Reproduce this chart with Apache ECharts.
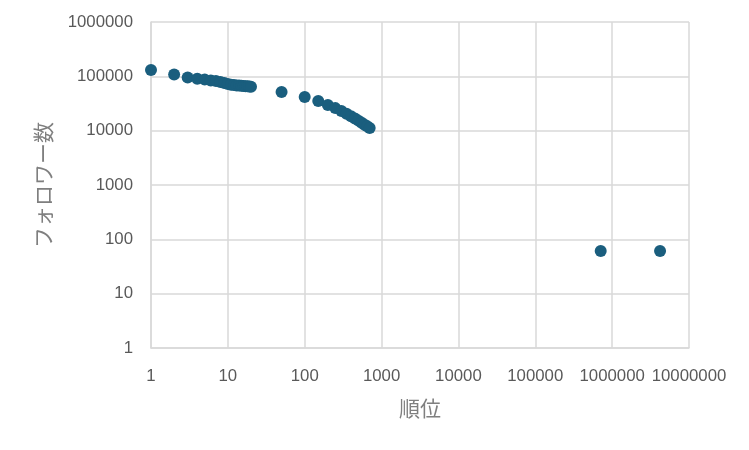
<!DOCTYPE html>
<html>
<head>
<meta charset="utf-8">
<script src="https://cdn.jsdelivr.net/npm/echarts@6/dist/echarts.min.js"></script>
<style>html,body{margin:0;padding:0;background:#fff;}#c{width:749px;height:450px;}</style>
</head>
<body>
<div id="c"></div>
<script>
const ranks = [1,2,3,4,5,6,7,8,9,10,11,12,13,14,15,16,17,18,19,20,
  50,100,150,200,250,300,350,400,450,500,550,600,650,700,710000,4200000];
const followers = [131000,108000,95000,90000,87000,84000,82000,79000,75000,72000,70000,69000,68000,67500,67000,66500,66000,65500,65000,64500,
  51500,41700,35200,29700,26000,23000,20500,18500,16800,15300,14000,12900,12000,11200,61,61];
const xTickLabels = ['1','10','100','1000','10000','100000','1000000','10000000'];
const yTickLabels = ['1','10','100','1000','10000','100000','1000000'];
const xName = '順位';
const yName = 'フォロワー数';

const chart = echarts.init(document.getElementById('c'), null, {renderer:'canvas'});
const labelFmt = arr => v => { const i = Math.round(Math.log10(v)); return arr[i] !== undefined ? arr[i] : ''; };
const axisCommon = {
  type: 'log', logBase: 10,
  axisLine: {show: true, lineStyle: {color: '#d9d9d9', width: 1.5}},
  axisTick: {show: false},
  splitLine: {show: true, lineStyle: {color: '#d9d9d9', width: 1.5}},
  nameTextStyle: {color: '#7f7f7f', fontSize: 21, fontFamily: 'Noto Sans CJK JP'}
};
chart.setOption({
  animation: false,
  backgroundColor: '#fff',
  grid: {left: 151, right: 60, top: 22, bottom: 102, containLabel: false},
  xAxis: Object.assign({}, axisCommon, {
    min: 1, max: 1e7,
    name: xName, nameLocation: 'middle', nameGap: 50,
    axisLabel: {formatter: labelFmt(xTickLabels), color: '#595959', fontSize: 16.8, fontFamily: 'Liberation Sans', margin: 20}
  }),
  yAxis: Object.assign({}, axisCommon, {
    min: 1, max: 1e6,
    name: yName, nameLocation: 'middle', nameGap: 97, nameRotate: 90,
    axisLabel: {formatter: labelFmt(yTickLabels), color: '#595959', fontSize: 16.8, fontFamily: 'Liberation Sans', margin: 18}
  }),
  series: [{
    type: 'scatter',
    data: ranks.map((r, i) => [r, followers[i]]),
    symbolSize: 12,
    itemStyle: {color: '#1a5e7e', opacity: 1}
  }]
});
</script>
</body>
</html>
